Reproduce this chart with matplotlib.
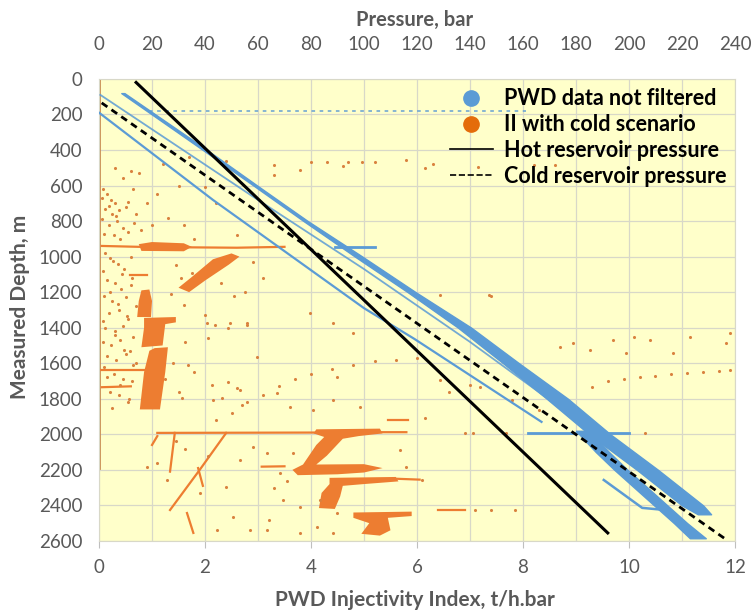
import matplotlib.pyplot as plt
from matplotlib.lines import Line2D

# --- reservoir pressure lines (pressure bar, depth m)
hot_p = [14, 192]
hot_d = [20, 2555]
cold_p = [1, 236]
cold_d = [135, 2585]

# --- PWD data not filtered (pressure bar, depth m)
pwd_main_d = [80, 400, 600, 800, 1000, 1200, 1400, 1600, 1800, 2000, 2200, 2400, 2450]
pwd_main_lo = [8.4, 39.2, 58.3, 77.2, 96.6, 116.5, 135.5, 152.5, 169, 185, 203, 220, 226]
pwd_main_hi = [9.6, 40.8, 59.7, 78.8, 99.4, 119.5, 140.5, 158.5, 177, 193, 211, 228, 231]
pwd_low_d = [1980, 2100, 2200, 2300, 2400, 2500, 2585]
pwd_low_lo = [180, 187.5, 194.5, 202, 209.5, 217, 223]
pwd_low_hi = [185, 192.5, 199.5, 207, 214.5, 222, 229]
pwd_b_p = [0.5, 60, 100, 140, 175]
pwd_b_d = [90, 681, 1070, 1480, 1860]
pwd_c_p = [0, 43, 100, 119, 167]
pwd_c_d = [190, 681, 1290, 1463, 1930]
pwd_e_p = [190.5, 205, 213]
pwd_e_d = [2257, 2414, 2425]
pwd_h1_p = [19, 161]
pwd_h1_d = [180, 180]
pwd_h2_p = [89, 104]
pwd_h2_d = [945, 945]
pwd_h3_p = [162, 200]
pwd_h3_d = [1995, 1995]

# --- II with cold scenario (t/h.bar, depth m)
ii_wall_x = [0, 0]
ii_wall_d = [0, 2190]
ii_blobs = {
    "b950": ([0.75, 1.0, 1.6, 1.75, 1.6, 0.8],
             [930, 918, 925, 945, 970, 968]),
    "b1000": ([1.5, 1.75, 2.15, 2.5, 2.65, 2.45, 2.0, 1.7],
              [1175, 1115, 1015, 982, 1000, 1045, 1135, 1200]),
    "b1200": ([0.8, 0.95, 1.0, 0.98, 0.72, 0.75],
              [1190, 1185, 1250, 1340, 1340, 1250]),
    "b1400": ([0.85, 1.45, 1.45, 1.25, 1.2, 0.8, 0.85],
              [1345, 1340, 1370, 1380, 1500, 1510, 1400]),
    "b1650": ([1.05, 1.3, 1.25, 1.15, 0.77, 0.85, 0.95],
              [1515, 1510, 1650, 1860, 1860, 1650, 1530]),
    "z1": ([4.1, 5.3, 5.35, 4.9, 4.6, 4.3, 4.1, 5.0, 5.35, 5.0, 4.5, 3.75, 3.65, 3.85, 4.1, 4.25, 4.05],
           [1972, 1968, 1995, 2010, 2025, 2120, 2170, 2168, 2190, 2215, 2225, 2230, 2200, 2170, 2060, 2015, 1995]),
    "z2": ([4.35, 5.6, 5.65, 5.0, 4.6, 4.55, 4.45, 4.15, 4.2, 4.35],
           [2245, 2240, 2265, 2280, 2290, 2350, 2420, 2415, 2330, 2280]),
    "z3": ([4.8, 5.9, 5.9, 5.45, 5.5, 5.3, 4.95, 5.1, 4.8],
           [2440, 2435, 2460, 2470, 2540, 2570, 2560, 2500, 2470]),
}
ii_strands = {
    "s950": ([0.05, 0.75, 1.75, 2.6, 3.5], [940, 945, 948, 950, 945]),
    "s1100": ([0.58, 0.9], [1103, 1103]),
    "s1650": ([0.02, 0.85], [1640, 1640]),
    "s1735": ([0.05, 0.6], [1735, 1730]),
    "s1990": ([1.1, 4.2, 5.3, 5.8], [1992, 1990, 1988, 1988]),
    "s2180": ([3.07, 3.5], [2182, 2180]),
    "diag1": ([2.4, 1.9, 1.34], [1992, 2200, 2426]),
    "diag1b": ([1.87, 1.96], [2190, 2290]),
    "vert1": ([1.43, 1.34], [1992, 2210]),
    "vert2": ([1.1, 1.0], [2010, 2060]),
    "s2443": ([1.66, 1.78], [2443, 2555]),
    "s2250": ([5.6, 6.05], [2250, 2255]),
    "s2426": ([6.4, 6.9], [2426, 2426]),
    "s1919": ([5.45, 5.83], [1919, 1919]),
}
ii_arc_x = [2.2, 2.5, 2.8, 3.1, 3.4, 3.7, 4.0, 4.4, 4.8, 5.2, 5.6, 6.0,
            9.3, 9.6, 9.9, 10.2, 10.5, 10.8, 11.1, 11.4, 11.7, 11.9]
ii_arc_d = [1920, 1880, 1820, 1780, 1730, 1690, 1660, 1630, 1610, 1590, 1580, 1570,
            1733, 1700, 1690, 1680, 1670, 1660, 1655, 1650, 1645, 1640]
ii_dots_x = [0.08, 0.15, 0.22, 0.3, 0.12, 0.25, 0.38, 0.05, 0.18, 0.33, 0.45, 0.1, 0.28, 0.4, 0.55,
             0.2, 0.35, 0.6, 0.08, 0.48, 0.15, 0.3, 0.42, 0.62, 0.1, 0.25, 0.5, 0.7, 0.18, 0.38,
             0.55, 0.12, 0.3, 0.45, 0.65, 0.08, 0.22, 0.4, 0.58, 0.15, 0.32, 0.5, 0.7, 0.1, 0.28,
             0.45, 0.62, 0.2, 0.38, 0.55,
             0.3, 0.6, 0.75, 1.2, 0.45, 2.4, 1.7, 0.7, 0.55, 0.8, 1.0, 1.3, 1.6, 0.9, 1.1, 0.65,
             1.5, 2.0, 2.2, 1.8, 2.6, 3.3, 4.0, 4.6, 5.2, 6.3,
             3.3, 4.3, 4.7, 4.96, 5.8, 3.8, 6.15, 7.15, 8.2, 8.6, 7.35, 7.4, 6.43,
             2.0, 2.19, 2.43, 2.8, 2.06, 1.62, 1.68, 1.8, 2.13, 2.43, 2.6, 2.32, 2.7, 1.57,
             2.04, 2.47, 2.79, 2.98, 3.98, 4.42, 4.8, 2.15, 2.66, 3.36, 3.6, 4.04, 4.42, 4.92, 4.49,
             1.09, 0.9, 1.28, 1.9, 2.4, 2.66, 2.9, 3.17, 3.42, 3.66, 3.47, 3.8, 4.17, 4.49, 2.53,
             2.85, 3.17, 2.23, 3.79, 4.11, 4.42,
             6.43, 7.19, 7.8, 8.3, 8.7, 8.95, 9.26, 9.7, 10.1, 10.4, 11.15, 11.9, 11.83, 10.83, 9.94,
             5.68, 5.8, 6.1, 6.9, 7.06, 7.68, 10.3, 7.1, 7.4, 7.85, 6.15, 6.6, 7.0,
             0.05, 0.18, 0.32, 0.5, 0.66, 0.12, 0.27, 0.43, 0.6, 0.2, 0.36, 0.52, 0.08, 0.3,
             0.47, 0.64, 0.15, 0.4, 0.57, 0.25, 1.45, 1.55, 1.35, 1.6, 1.4, 2.3, 2.55, 1.25,
             1.5, 1.75, 2.9, 3.1, 2.75, 1.45, 1.62, 2.05, 3.3, 3.55, 3.2]
ii_dots_d = [620, 650, 680, 700, 730, 760, 740, 790, 820, 800, 840, 870, 880, 900, 860,
             1010, 1040, 1000, 1080, 1070, 1130, 1150, 1180, 1120, 1220, 1250, 1230, 1280, 1320, 1300,
             1350, 1400, 1420, 1390, 1450, 1480, 1500, 1470, 1530, 1560, 1580, 1550, 1600, 1620, 1660,
             1690, 1700, 1760, 1780, 1820,
             500, 520, 530, 480, 560, 460, 440, 760, 690, 850, 820, 780, 820, 700, 650, 620,
             600, 610, 700, 900, 880, 540, 470, 490, 470, 480,
             484, 467, 467, 467, 456, 512, 500, 495, 484, 484, 1216, 1220, 1216,
             1328, 1385, 1400, 1385, 1458, 1480, 1610, 1649, 1722, 1705, 1740, 1795, 1835, 1795,
             1373, 1373, 1373, 1564, 1317, 1373, 1430, 1806, 1750, 1767, 1846, 1863, 1806, 1846, 1677,
             2161, 2184, 2257, 2330, 2296, 2144, 2071, 2105, 2218, 2105, 2369, 2409, 2369, 2443, 2465,
             2538, 2538, 2538, 2555, 2521, 2555,
             1694, 1733, 1806, 1863, 1508, 1486, 1525, 1469, 1452, 1469, 1452, 1430, 1486, 1542, 1542,
             2088, 2184, 2257, 1992, 1992, 1992, 1992, 2426, 2426, 2426, 1908, 1760, 1720,
             670, 715, 770, 720, 810, 980, 1025, 1100, 1160, 1200, 1265, 1335, 1360, 1440,
             1525, 1610, 1680, 1720, 1800, 1850, 1050, 1120, 1210, 1270, 1600, 1150, 1220, 1690,
             1760, 1090, 1030, 1120, 1200, 2040, 2080, 2120, 2300, 2260, 2480]

blue = "#5B9BD5"
orange = "#ED7D31"
gray = "#595959"
plt.rcParams["font.family"] = ["Lato", "DejaVu Sans"]

fig = plt.figure(figsize=(7.53, 6.14), dpi=100)
ax = fig.add_axes([0.1315, 0.119, 0.8445, 0.7525])
ax.set_facecolor("#FFFFCA")
ax.set_xlim(0, 12)
ax.set_ylim(2600, 0)
ax.set_xticks(range(0, 13, 2))
ax.set_xticks(range(0, 13), minor=True)
ax.set_yticks(range(0, 2601, 200))
ax.grid(which="both", color="#D8D8C8", lw=0.9)
ax.set_axisbelow(True)
ax.tick_params(axis="x", which="major", colors="#BFBFBF", labelcolor=gray, labelsize=13.5,
               length=5, pad=8)
ax.tick_params(axis="x", which="minor", length=0)
ax.tick_params(axis="y", length=0, labelcolor=gray, labelsize=13.5, pad=12)
for s in ax.spines.values():
    s.set_color("#D8D8C8")

# orange II data
ax.plot(ii_wall_x, ii_wall_d, color="#C98A4E", lw=2, zorder=2)
for xs, ds in ii_blobs.values():
    ax.fill(xs, ds, color=orange, lw=0, zorder=2)
for xs, ds in ii_strands.values():
    ax.plot(xs, ds, color=orange, lw=1.6, zorder=2)
ax.scatter(ii_arc_x, ii_arc_d, s=5, color="#D9823F", lw=0, zorder=2)
ax.scatter(ii_dots_x, ii_dots_d, s=5, color="#D9823F", lw=0, zorder=2)

# pressure axis on top
ax2 = ax.twiny()
ax2.set_xlim(0, 240)
ax2.set_xticks(range(0, 241, 20))
ax2.tick_params(axis="x", length=0, labelcolor=gray, labelsize=13.5, pad=19)
for s in ax2.spines.values():
    s.set_visible(False)

ax2.fill_betweenx(pwd_main_d, pwd_main_lo, pwd_main_hi, color=blue, lw=1, ec=blue)
ax2.fill_betweenx(pwd_low_d, pwd_low_lo, pwd_low_hi, color=blue, lw=1, ec=blue)
ax2.plot(pwd_b_p, pwd_b_d, color=blue, lw=1.3, alpha=0.85)
ax2.plot(pwd_c_p, pwd_c_d, color=blue, lw=1.6)
ax2.plot(pwd_e_p, pwd_e_d, color=blue, lw=1.8)
ax2.plot(pwd_h1_p, pwd_h1_d, color=blue, lw=1.3, dashes=(2, 2.5), alpha=0.8)
ax2.plot(pwd_h2_p, pwd_h2_d, color=blue, lw=2)
ax2.plot(pwd_h3_p, pwd_h3_d, color=blue, lw=2)

ax2.plot(hot_p, hot_d, color="black", lw=2.2)
ax2.plot(cold_p, cold_d, color="black", lw=2, dashes=(2.5, 1.8))

handles = [
    Line2D([], [], ls="none", marker="o", ms=11, color=blue),
    Line2D([], [], ls="none", marker="o", ms=11, color="#E46C0A"),
    Line2D([], [], color="black", lw=1.2),
    Line2D([], [], color="black", lw=1.2, ls="--"),
]
labels = ["PWD data not filtered", "II with cold scenario",
          "Hot reservoir pressure", "Cold reservoir pressure"]
ax2.legend(handles, labels, loc="upper right", bbox_to_anchor=(1.005, 1.005), frameon=False,
           prop={"weight": "bold", "size": 15.5}, handlelength=2.0, handletextpad=0.5,
           labelspacing=0.22, borderaxespad=0.15)

fig.text(0.551, 0.967, "Pressure, bar", ha="center", va="center", color=gray,
         fontsize=14.5, fontweight="bold")
fig.text(0.551, 0.022, "PWD Injectivity Index, t/h.bar", ha="center", va="center",
         color=gray, fontsize=15, fontweight="bold")
fig.text(0.027, 0.5, "Measured Depth, m", ha="center", va="center", rotation=90,
         color=gray, fontsize=15, fontweight="bold")

fig.savefig("out.png", dpi=100)
